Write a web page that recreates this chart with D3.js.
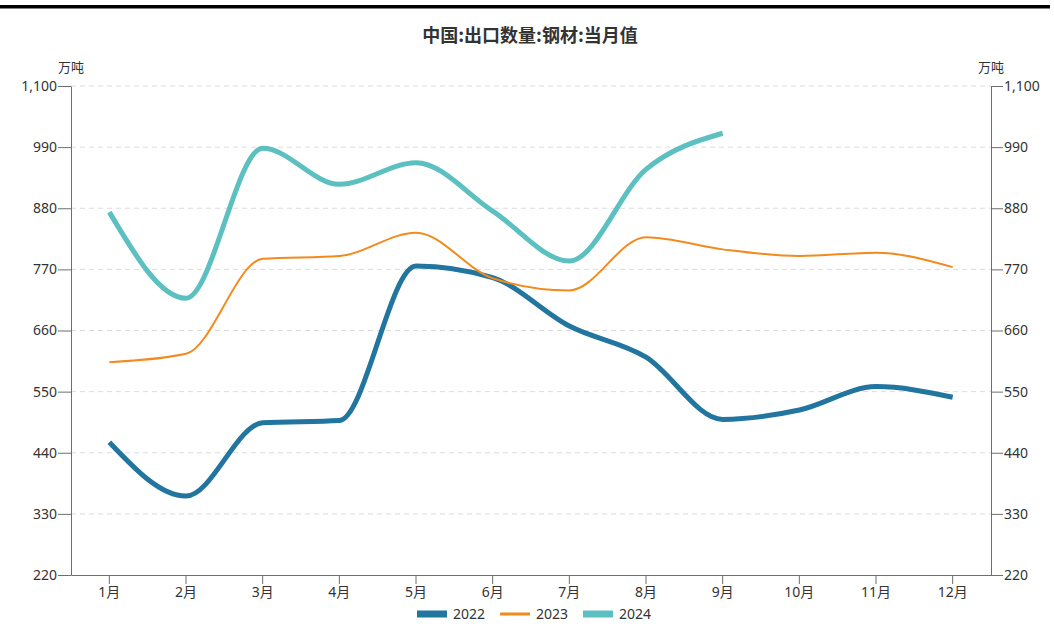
<!DOCTYPE html>
<html lang="zh">
<head>
<meta charset="UTF-8" />
<title>中国:出口数量:钢材:当月值</title>
<style>
  html, body {
    margin: 0;
    padding: 0;
    background: #fff;
    font-family: "Noto Sans CJK SC", "Noto Sans", sans-serif;
  }
  svg { display: block; }
  .grid line { stroke: #dcdcdc; stroke-dasharray: 5,4; }
  .axis path, .axis line { stroke: #6e6e6e; }
  .line { fill: none; stroke-linejoin: round; stroke-linecap: butt; }
</style>
</head>
<body>
<svg width="1054" height="638"></svg>
<script src="https://d3js.org/d3.v7.min.js"></script>
<script>
const months = ["1月", "2月", "3月", "4月", "5月", "6月", "7月", "8月", "9月", "10月", "11月", "12月"];
const yTicks = [220, 330, 440, 550, 660, 770, 880, 990, 1100];

const y2022 = [459, 362, 494, 498, 776, 755, 668, 612, 500, 517, 559, 540];
const y2023 = [603, 618, 789, 794, 836, 754, 732, 828, 806, 794, 800, 774];
const y2024 = [873, 718, 988, 923, 962, 875, 785, 950, 1015];

const series = [
  { name: "2022", values: y2022, color: "#21759f", width: 5 },
  { name: "2023", values: y2023, color: "#f28a1e", width: 2 },
  { name: "2024", values: y2024, color: "#5cbfc0", width: 5 }
];

const svg = d3.select("svg");
const margin = { left: 71, right: 63, top: 86, bottom: 63 };
const W = 1054, H = 638;

// top black rule
svg.append("rect")
  .attr("x", 0).attr("y", 5)
  .attr("width", 1050).attr("height", 3.5)
  .attr("fill", "#000");

svg.append("text")
  .attr("x", 530).attr("y", 42)
  .attr("text-anchor", "middle")
  .attr("font-size", 18)
  .attr("font-weight", "bold")
  .attr("fill", "#333")
  .text("中国:出口数量:钢材:当月值");

const x = d3.scaleBand()
  .domain(months)
  .range([margin.left, W - margin.right]);

const y = d3.scaleLinear()
  .domain([220, 1100])
  .range([H - margin.bottom, margin.top]);

// grid
svg.append("g")
  .attr("class", "grid")
  .selectAll("line")
  .data(yTicks.slice(1))
  .join("line")
  .attr("x1", margin.left)
  .attr("x2", W - margin.right)
  .attr("y1", d => y(d))
  .attr("y2", d => y(d));

const fmt = d3.format(",");

function styleAxis(g) {
  g.attr("font-size", 14)
    .attr("font-family", "Noto Sans, Noto Sans CJK SC, sans-serif");
  g.selectAll("text").attr("fill", "#333");
}

svg.append("g")
  .attr("class", "axis")
  .attr("transform", `translate(${margin.left},0)`)
  .call(d3.axisLeft(y).tickValues(yTicks).tickFormat(fmt).tickSize(13).tickSizeOuter(0).tickPadding(1))
  .call(styleAxis);

svg.append("g")
  .attr("class", "axis")
  .attr("transform", `translate(${W - margin.right},0)`)
  .call(d3.axisRight(y).tickValues(yTicks).tickFormat(fmt).tickSize(12).tickSizeOuter(0).tickPadding(1))
  .call(styleAxis);

svg.append("g")
  .attr("class", "axis")
  .attr("transform", `translate(0,${H - margin.bottom})`)
  .call(d3.axisBottom(x).tickSize(9).tickSizeOuter(0).tickPadding(3))
  .call(styleAxis);

// unit labels
svg.append("text")
  .attr("x", 71).attr("y", 72)
  .attr("text-anchor", "middle")
  .attr("font-size", 13).attr("fill", "#333")
  .text("万吨");
svg.append("text")
  .attr("x", 991).attr("y", 72)
  .attr("text-anchor", "middle")
  .attr("font-size", 13).attr("fill", "#333")
  .text("万吨");

const line = d3.line()
  .x((d, i) => x(months[i]) + x.bandwidth() / 2)
  .y(d => y(d))
  .curve(d3.curveMonotoneX);

svg.append("g")
  .selectAll("path")
  .data(series)
  .join("path")
  .attr("class", "line")
  .attr("stroke", d => d.color)
  .attr("stroke-width", d => d.width)
  .attr("d", d => line(d.values));

// legend
const legend = svg.append("g").attr("transform", "translate(417,614)");
const item = legend.selectAll("g")
  .data(series)
  .join("g")
  .attr("transform", (d, i) => `translate(${i * 83},0)`);

item.append("rect")
  .attr("x", 0)
  .attr("y", d => d.width > 3 ? -3.5 : -1.5)
  .attr("width", 30)
  .attr("height", d => d.width > 3 ? 7 : 3)
  .attr("fill", d => d.color);

item.append("text")
  .attr("x", 36)
  .attr("y", 0)
  .attr("dy", "0.35em")
  .attr("font-size", 14)
  .attr("font-family", "Noto Sans, sans-serif")
  .attr("fill", "#333")
  .text(d => d.name);
</script>
</body>
</html>
